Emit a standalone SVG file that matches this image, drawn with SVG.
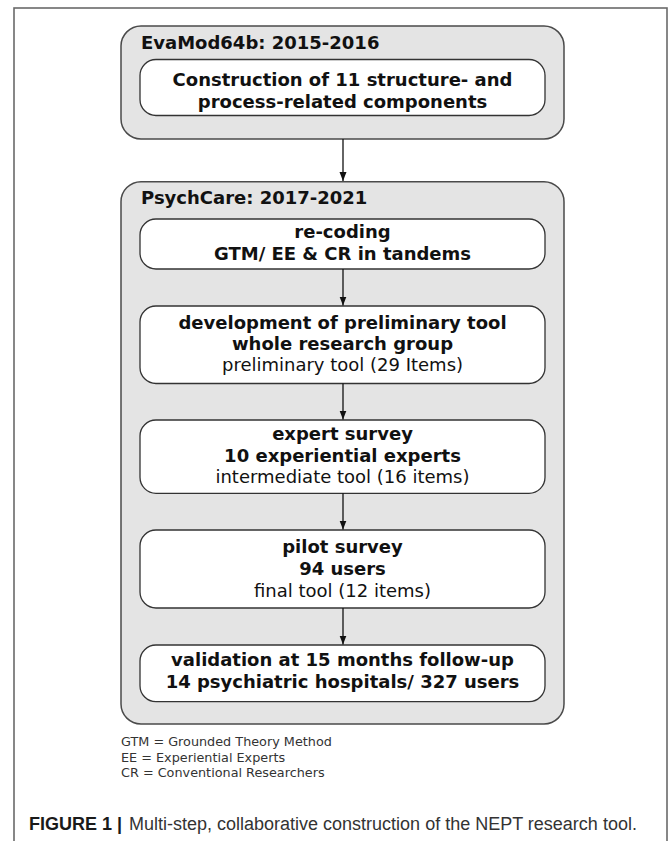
<svg xmlns="http://www.w3.org/2000/svg" width="669" height="841" viewBox="0 0 669 841">
  <defs>
    <marker id="arrow" markerUnits="userSpaceOnUse" markerWidth="10" markerHeight="10" viewBox="0 0 10 10" refX="9" refY="5" orient="auto">
      <path d="M0,1.5 L9,5 L0,8.5 Z" fill="#111"/>
    </marker>
  </defs>
  <style>
    .frame { fill: #ffffff; stroke: #6a6a6a; stroke-width: 1.6; }
    .outer { fill: #e4e4e4; stroke: #4a4a4a; stroke-width: 1.5; }
    .inner { fill: #ffffff; stroke: #333333; stroke-width: 1.3; }
    .title { font-family: "DejaVu Sans", Verdana, sans-serif; font-weight: bold; font-size: 18px; fill: #111; }
    .b { font-family: "DejaVu Sans", Verdana, sans-serif; font-weight: bold; font-size: 18px; fill: #111; text-anchor: middle; }
    .r { font-family: "DejaVu Sans", Verdana, sans-serif; font-weight: normal; font-size: 18px; fill: #111; text-anchor: middle; }
    .legend { font-family: "DejaVu Sans", Verdana, sans-serif; font-size: 12.8px; fill: #333; }
    .cap { font-family: "Liberation Sans", Arial, sans-serif; font-size: 18px; fill: #333; }
    .capb { font-weight: bold; fill: #1a1a1a; }
    .conn { stroke: #111; stroke-width: 1.3; fill: none; marker-end: url(#arrow); }
  </style>

  <rect class="frame" x="14" y="8" width="653" height="850"/>

  <g id="evamod">
    <rect class="outer" x="121" y="26" width="443" height="113" rx="20" ry="20"/>
    <text class="title" x="141" y="48.5">EvaMod64b: 2015-2016</text>
  </g>
  <g id="construction">
    <rect class="inner" x="140" y="59.5" width="405" height="56" rx="16" ry="16"/>
    <text class="b" x="342.5" y="86">Construction of 11 structure- and</text>
    <text class="b" x="342.5" y="107.5">process-related components</text>
  </g>

  <g id="psychcare">
    <rect class="outer" x="121" y="181.7" width="443" height="542.3" rx="20" ry="20"/>
    <text class="title" x="141" y="204">PsychCare: 2017-2021</text>
  </g>
  <g id="recoding">
    <rect class="inner" x="140" y="219" width="405" height="50" rx="16" ry="16"/>
    <text class="b" x="342.5" y="238">re-coding</text>
    <text class="b" x="342.5" y="260">GTM/ EE &amp; CR in tandems</text>
  </g>
  <g id="development">
    <rect class="inner" x="140" y="306" width="405" height="77.5" rx="16" ry="16"/>
    <text class="b" x="342.5" y="329">development of preliminary tool</text>
    <text class="b" x="342.5" y="350">whole research group</text>
    <text class="r" x="342.5" y="371">preliminary tool (29 Items)</text>
  </g>
  <g id="expert">
    <rect class="inner" x="140" y="420" width="405" height="73.3" rx="16" ry="16"/>
    <text class="b" x="342.5" y="439.5">expert survey</text>
    <text class="b" x="342.5" y="461.5">10 experiential experts</text>
    <text class="r" x="342.5" y="483.3">intermediate tool (16 items)</text>
  </g>
  <g id="pilot">
    <rect class="inner" x="140" y="530" width="405" height="78" rx="16" ry="16"/>
    <text class="b" x="342.5" y="553.3">pilot survey</text>
    <text class="b" x="342.5" y="575">94 users</text>
    <text class="r" x="342.5" y="596.7">final tool (12 items)</text>
  </g>
  <g id="validation">
    <rect class="inner" x="140" y="645" width="405" height="56.7" rx="16" ry="16"/>
    <text class="b" x="342.5" y="666">validation at 15 months follow-up</text>
    <text class="b" x="342.5" y="688">14 psychiatric hospitals/ 327 users</text>
  </g>

  <g id="connectors">
    <line class="conn" x1="343" y1="139" x2="343" y2="181"/>
    <line class="conn" x1="343" y1="269" x2="343" y2="305.5"/>
    <line class="conn" x1="343" y1="383.5" x2="343" y2="419.5"/>
    <line class="conn" x1="343" y1="493.3" x2="343" y2="529.5"/>
    <line class="conn" x1="343" y1="608" x2="343" y2="644.5"/>
  </g>

  <g id="legend">
    <text class="legend" x="121" y="746">GTM = Grounded Theory Method</text>
    <text class="legend" x="121" y="761.5">EE = Experiential Experts</text>
    <text class="legend" x="121" y="777">CR = Conventional Researchers</text>
  </g>

  <g id="caption">
    <text class="cap" y="829.5"><tspan class="capb" x="29">FIGURE 1 |</tspan><tspan x="129">Multi-step, collaborative construction of the NEPT research tool.</tspan></text>
  </g>
</svg>
